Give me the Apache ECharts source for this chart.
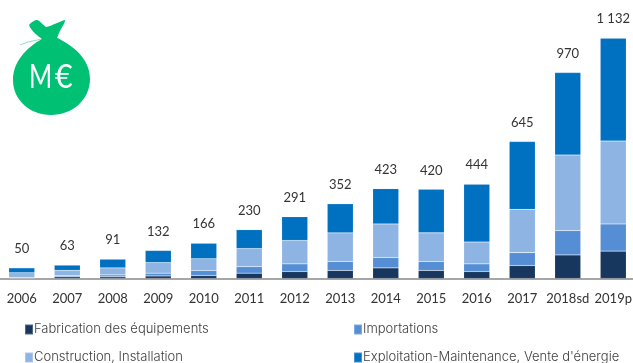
<!DOCTYPE html>
<html>
<head>
<meta charset="utf-8">
<style>html,body{margin:0;padding:0;background:#fff;overflow:hidden}#c{width:633px;height:363px}</style>
<script src="https://cdn.jsdelivr.net/npm/echarts@6/dist/echarts.min.js"></script>
</head>
<body>
<div id="c"></div>
<script>
// Annual turnover in M€, split by activity
const categories = ['2006','2007','2008','2009','2010','2011','2012','2013','2014','2015','2016','2017','2018sd','2019p'];
const fabrication = [2,8,8,12,14,25,33,38,50,38,33,61,111,129];
const importations = [4,5,9,13,24,31,36,42,49,42,36,61,115,128];
const construction = [21,25,33,50,55,85,110,135,158,135,103,204,356,391];
const exploitation = [23,25,41,57,73,89,112,137,166,205,272,319,388,484];
const totals = [50,63,91,132,166,230,291,352,423,420,444,645,970,1132];
const seriesNames = ['Fabrication des équipements','Importations','Construction, Installation','Exploitation-Maintenance, Vente d\'énergie'];
const colors = ['#17375E','#558ED5','#8EB4E3','#0070C0'];
const numberFont = 'Lato';
const legendFont = 'Inter';

const bars = [fabrication, importations, construction, exploitation].map((data, i) => ({
  name: seriesNames[i], type: 'bar', stack: 'total', data, barWidth: 26,
  itemStyle: { color: colors[i], borderColor: 'rgba(255,255,255,0.25)', borderWidth: 0.5 }
}));

// Outline of the money bag emblem
const bagPath = 'M29 25 C31 22 35 20 37 20 C39 20 41 23 46 27 C52 26 60 21 65 20 C66 21 62 27 59 33 L57 38 C59 39 60 39 61 40 C78 49 90 62 90 79 C90 100 72 115 51 115 C30 115 13 100 13 80 C13 62 26 48 42 39 C38 36 31 31 29 25 Z';

const legendSpots = [[19,318],[348,318],[19,346],[348,346]];
const chart = echarts.init(document.getElementById('c'));
chart.setOption({
  animation: false,
  grid: { left: -1, width: 637, top: 0, height: 278.5, outerBoundsMode: 'none' },
  xAxis: {
    type: 'category', data: categories,
    axisLine: { lineStyle: { color: '#A6A6A6', width: 2 } },
    axisTick: { show: false },
    axisLabel: { color: '#333', fontFamily: numberFont, fontSize: 13, margin: 14, interval: 0 }
  },
  yAxis: { type: 'value', min: 0, max: 1312, show: false },
  legend: seriesNames.map((name, i) => ({
    data: [name], left: legendSpots[i][0], top: legendSpots[i][1],
    itemWidth: 8, itemHeight: 10, itemGap: 0, icon: 'rect',
    textStyle: { color: '#404040', fontFamily: legendFont, fontWeight: 300, fontSize: 13, padding: [i < 2 ? 2 : 4, 0, 0, -4] }
  })),
  series: [...bars, {
    name: 'Total', type: 'line', data: totals, symbol: 'circle', symbolSize: 1,
    itemStyle: { color: 'transparent' },
    lineStyle: { opacity: 0 }, silent: true,
    label: {
      show: true, position: 'top', distance: 12, color: '#333', fontFamily: numberFont, fontSize: 13,
      formatter: p => String(p.value).replace(/\B(?=(\d{3})+$)/g, ' ')
    }
  }, {
    name: 'Emblem', type: 'custom', coordinateSystem: 'none', data: [[0]], silent: true,
    renderItem: () => ({
      type: 'path',
      shape: { pathData: bagPath, layout: 'center', x: 13, y: 20, width: 77, height: 95 },
      style: { fill: '#00C074' }
    })
  }],
  graphic: [
    { type: 'polyline', shape: { points: [[20,45],[28,42],[42,39]] }, style: { stroke: '#8FE0BC', lineWidth: 1, fill: null } },
    { type: 'polyline', shape: { points: [[57,38],[62,41]] }, style: { stroke: '#8FE0BC', lineWidth: 1, fill: null } },
    { type: 'text', x: 29, y: 62, z: 10, scaleX: 0.78, style: { text: 'M', fill: '#fff', fontFamily: 'Lato', fontWeight: 400, fontSize: 32 } },
    { type: 'text', x: 55, y: 62, z: 10, scaleX: 0.95, style: { text: '€', fill: '#fff', fontFamily: 'Lato', fontWeight: 400, fontSize: 32 } }
  ]
});
</script>
</body>
</html>
